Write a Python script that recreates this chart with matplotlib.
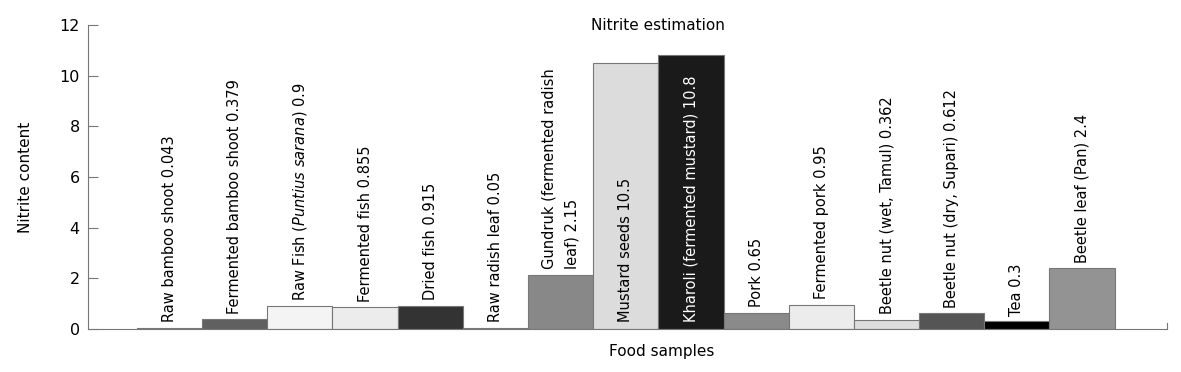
import matplotlib
matplotlib.use("Agg")
import matplotlib.pyplot as plt

categories = [
    "Raw bamboo shoot 0.043",
    "Fermented bamboo shoot 0.379",
    r"Raw Fish ($\it{Puntius\ sarana}$) 0.9",
    "Fermented fish 0.855",
    "Dried fish 0.915",
    "Raw radish leaf 0.05",
    "Gundruk (fermented radish\nleaf) 2.15",
    "Mustard seeds 10.5",
    "Kharoli (fermented mustard) 10.8",
    "Pork 0.65",
    "Fermented pork 0.95",
    "Beetle nut (wet, Tamul) 0.362",
    "Beetle nut (dry, Supari) 0.612",
    "Tea 0.3",
    "Beetle leaf (Pan) 2.4",
]
values = [0.043, 0.379, 0.9, 0.855, 0.915, 0.05, 2.15, 10.5, 10.8, 0.65, 0.95, 0.362, 0.612, 0.3, 2.4]
colors = ["#555555", "#606060", "#f4f4f4", "#ececec", "#333333", "#555555", "#888888",
          "#dcdcdc", "#1a1a1a", "#8a8a8a", "#ececec", "#dddddd", "#555555", "#000000", "#939393"]
yticks = [0, 2, 4, 6, 8, 10, 12]
inside = {7: "black", 8: "white"}

plt.rcParams['font.family'] = ['DejaVu Sans']
plt.rcParams['mathtext.fontset'] = 'dejavusans'

fig = plt.figure(figsize=(11.81, 3.72), dpi=100)
ax = fig.add_axes([0.0745, 0.1156, 0.9135, 0.8174])

x = list(range(len(values)))
ax.bar(x, values, width=1.0, color=colors, edgecolor="#777777", linewidth=0.8)

for i, (v, lab) in enumerate(zip(values, categories)):
    if i in inside:
        ax.annotate(lab, xy=(i, 0), xytext=(0, 5), textcoords="offset points",
                    rotation=90, ha="center", va="bottom", fontsize=10.5,
                    color=inside[i], multialignment="left")
    else:
        ax.annotate(lab, xy=(i, v), xytext=(0, 4), textcoords="offset points",
                    rotation=90, ha="center", va="bottom", fontsize=10.5,
                    color="black", multialignment="left", linespacing=1.7)

ax.set_xlim(-1.25, 15.3)
ax.set_ylim(0, 12)
ax.set_yticks(yticks)
ax.set_xticks([])
ax.tick_params(axis="y", direction="in", length=7, color="#777777", labelsize=11.5, pad=6)
ax.spines["top"].set_visible(False)
ax.spines["right"].set_bounds(0, 0.25)
ax.spines["right"].set_color("#777777")
ax.spines["left"].set_color("#777777")
ax.spines["bottom"].set_color("#777777")

fig.text(0.0212, 0.524, "Nitrite content", rotation=90, ha="center", va="center", fontsize=11)
fig.text(0.557, 0.932, "Nitrite estimation", ha="center", va="center", fontsize=11)
fig.text(0.56, 0.054, "Food samples", ha="center", va="center", fontsize=11)

fig.savefig("out.png", dpi=100)
